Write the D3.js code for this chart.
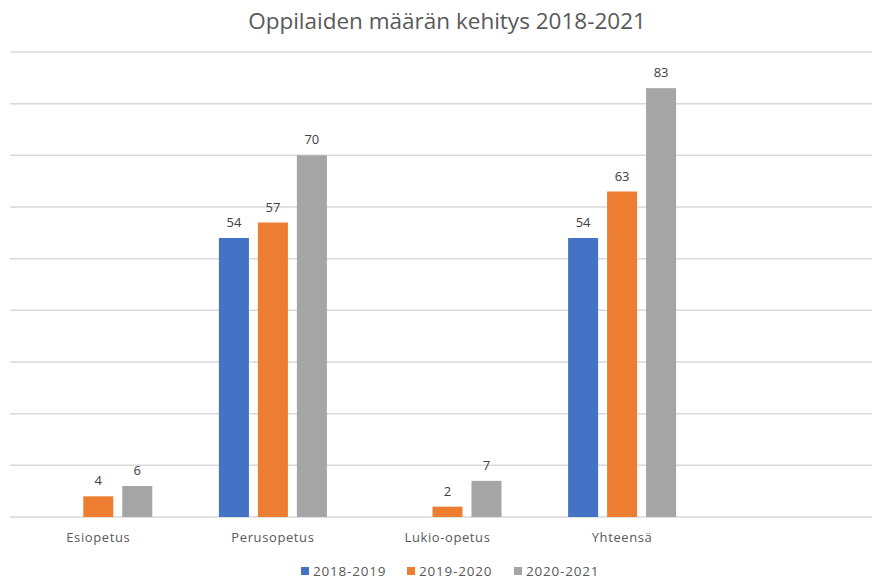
<!DOCTYPE html>
<html>
<head>
<meta charset="utf-8">
<script src="https://cdn.jsdelivr.net/npm/d3@7"></script>
<style>
  body { margin: 0; background: #fff; }
</style>
</head>
<body>
<div id="chart"></div>
<script>
// data
const categories = ["Esiopetus", "Perusopetus", "Lukio-opetus", "Yhteensä", ""];
const seriesNames = ["2018-2019", "2019-2020", "2020-2021"];
const seriesColors = ["#4472c4", "#ed7d31", "#a5a5a5"];
const values2018 = [null, 54, null, 54, null];
const values2019 = [4, 57, 2, 63, null];
const values2020 = [6, 70, 7, 83, null];
const yTicks = [0, 10, 20, 30, 40, 50, 60, 70, 80, 90];

const series = [values2018, values2019, values2020];

const width = 872;
const height = 579;

const svg = d3.select('#chart')
    .append('svg')
    .attr("width", width)
    .attr("height", height)
    .attr("font-family", "'Open Sans', sans-serif");

const x = d3.scaleBand()
    .domain(categories.map((c, i) => i))
    .range([11, 884]);

const x1 = d3.scaleBand()
    .domain(seriesNames)
    .range([0, 108])
    .paddingInner(0.23);

const y = d3.scaleLinear()
    .domain([0, 90])
    .range([517, 52]);

// gridlines
svg.append("g")
  .selectAll()
  .data(yTicks)
  .join("line")
    .attr("x1", 10)
    .attr("x2", width)
    .attr("y1", d => y(d))
    .attr("y2", d => y(d))
    .attr("stroke", "#d9d9d9")
    .attr("stroke-width", 1.5);

// title
svg.append("text")
    .attr("x", 447)
    .attr("y", 29)
    .attr("text-anchor", "middle")
    .attr("font-size", 22.5)
    .attr("fill", "#595959")
    .text("Oppilaiden määrän kehitys 2018-2021");

const groupOffset = (x.bandwidth() - x1.range()[1]) / 2;

const bars = [];
series.forEach((vals, si) => {
  vals.forEach((v, ci) => {
    if (v !== null) bars.push({ci, si, v});
  });
});

svg.append("g")
  .selectAll()
  .data(bars)
  .join("rect")
    .attr("x", d => x(d.ci) + groupOffset + x1(seriesNames[d.si]))
    .attr("width", x1.bandwidth())
    .attr("y", d => y(d.v))
    .attr("height", d => y(0) - y(d.v))
    .attr("fill", d => seriesColors[d.si]);

svg.append("g")
    .attr("font-size", 13)
    .attr("fill", "#404040")
    .attr("text-anchor", "middle")
  .selectAll()
  .data(bars)
  .join("text")
    .attr("x", d => x(d.ci) + groupOffset + x1(seriesNames[d.si]) + x1.bandwidth() / 2)
    .attr("y", d => y(d.v) - 11)
    .text(d => d.v);

// category labels
svg.append("g")
    .attr("font-size", 13)
    .attr("letter-spacing", 0.6)
    .attr("fill", "#595959")
    .attr("text-anchor", "middle")
  .selectAll()
  .data(categories)
  .join("text")
    .attr("x", (d, i) => x(i) + x.bandwidth() / 2)
    .attr("y", 542)
    .text(d => d);

// legend
const legendX = [301, 407, 514];
const legend = svg.append("g")
  .selectAll()
  .data(seriesNames)
  .join("g")
    .attr("transform", (d, i) => `translate(${legendX[i]},571)`);

legend.append("rect")
    .attr("x", 0)
    .attr("y", -4)
    .attr("width", 8)
    .attr("height", 8)
    .attr("fill", (d, i) => seriesColors[i]);

legend.append("text")
    .attr("x", 12)
    .attr("y", 5)
    .attr("font-size", 13.5)
    .attr("letter-spacing", 0.8)
    .attr("fill", "#595959")
    .text(d => d);
</script>
</body>
</html>
